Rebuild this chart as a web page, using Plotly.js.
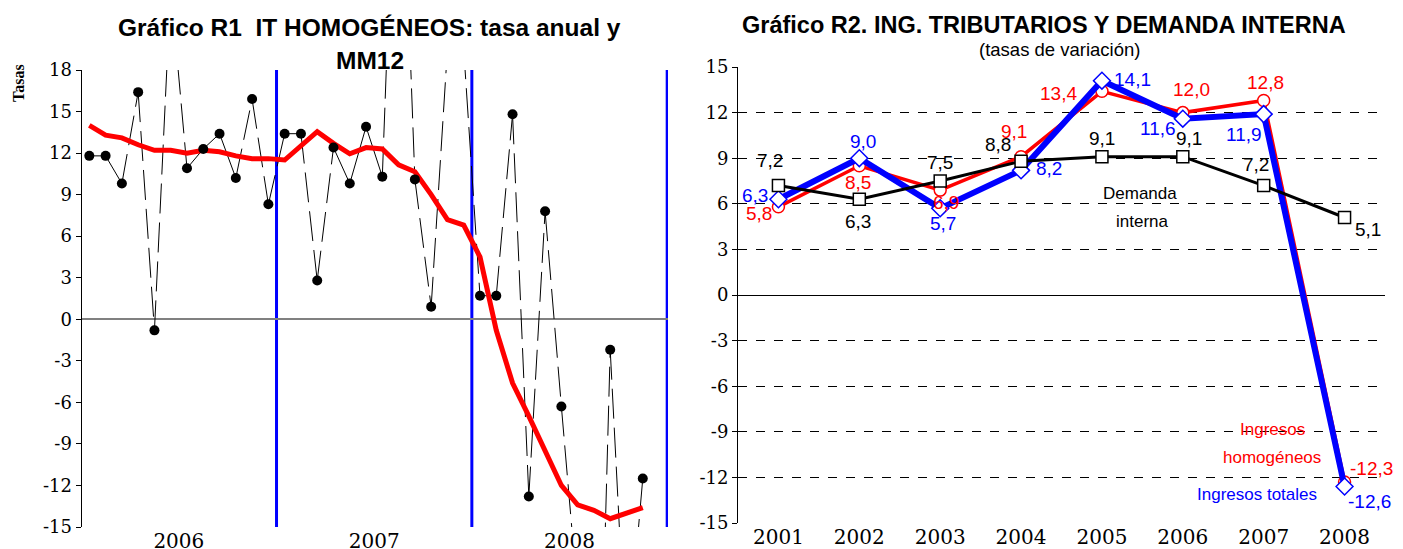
<!DOCTYPE html>
<html><head><meta charset="utf-8">
<script src="https://cdn.plot.ly/plotly-3.0.1.min.js"></script>
<style>html,body{margin:0;padding:0;background:#fff;} #chart{width:1403px;height:549px;}</style>
</head><body><div id="chart"></div>
<script>
// ---------- Gráfico R1 data (monthly, Jan 2006 - Nov 2008) ----------
const years1 = ['2006', '2007', '2008'];
const monthlyRate = [
  11.8, 11.8, 9.8, 16.4, -0.8, 24.0, 10.9, 12.3, 13.4, 10.2, 15.9, 8.3,
  13.4, 13.4, 2.8, 12.4, 9.8, 13.9, 10.3, 42.0, 10.1, 0.9, 19.5, 19.5,
  1.7, 1.7, 14.8, -12.8, 7.8, -6.3, -20.0, -45.0, -2.2, -25.0, -11.5
];
const mm12 = [
  14.0, 13.3, 13.1, 12.6, 12.2, 12.2, 12.0, 12.2, 12.1, 11.8, 11.6, 11.6,
  11.5, 12.5, 13.55, 12.7, 11.95, 12.4, 12.3, 11.15, 10.65, 9.0, 7.2, 6.8,
  4.5, -0.8, -4.6, -7.0, -9.6, -12.0, -13.4, -13.8, -14.4, -14.0, -13.6
];
const yTicks1 = [-15, -12, -9, -6, -3, 0, 3, 6, 9, 12, 15, 18];

// ---------- Gráfico R2 data (annual) ----------
const years2 = ['2001', '2002', '2003', '2004', '2005', '2006', '2007', '2008'];
const demandaInterna = [7.2, 6.3, 7.5, 8.8, 9.1, 9.1, 7.2, 5.1];
const ingresosHomogeneos = [5.8, 8.5, 6.9, 9.1, 13.4, 12.0, 12.8, -12.3];
const ingresosTotales = [6.3, 9.0, 5.7, 8.2, 14.1, 11.6, 11.9, -12.6];
const yTicks2 = [-15, -12, -9, -6, -3, 0, 3, 6, 9, 12, 15];

// label offsets (px) – style only
const offDem = [[-8, 25], [-1, -22], [0, 19], [-23, 17], [0, 18], [6, 18], [-8, 21], [23, -12]];
const offHom = [[-19, -7], [-1, -17], [6, -12], [-7, 25], [-43, -2], [9, 23], [2, 18], [27, 13]];
const offTot = [[-23, 4], [4, 17], [3, -15], [28, 2], [31, 1], [-25, -10], [-20, -20], [25, -15]];

const serif = 'DejaVu Serif, Liberation Serif, serif';
const sans = 'Liberation Sans, Arial, sans-serif';

const mIdx = monthlyRate.map((_, i) => i);

// split black line into gentle (solid) and steep (broken) segments
const solidX = [], solidY = [], brokenX = [], brokenY = [];
for (let i = 0; i < monthlyRate.length - 1; i++) {
  const steep = Math.abs(monthlyRate[i + 1] - monthlyRate[i]) >= 5;
  const tx = steep ? brokenX : solidX, ty = steep ? brokenY : solidY;
  tx.push(mIdx[i], mIdx[i + 1], null);
  ty.push(monthlyRate[i], monthlyRate[i + 1], null);
}

const fmt = v => v.toFixed(1).replace('.', ',');
const idx2 = years2.map((_, i) => i);

const traces = [
  {x: solidX, y: solidY, xaxis: 'x', yaxis: 'y', mode: 'lines', connectgaps: false,
   line: {color: '#000', width: 1}, hoverinfo: 'skip'},
  {x: brokenX, y: brokenY, xaxis: 'x', yaxis: 'y', mode: 'lines', connectgaps: false,
   line: {color: '#000', width: 1, dash: '30px,9px'}, hoverinfo: 'skip'},
  {x: mIdx, y: mm12, xaxis: 'x', yaxis: 'y', mode: 'lines',
   line: {color: '#FF0000', width: 5}},
  {x: mIdx, y: monthlyRate, xaxis: 'x', yaxis: 'y', mode: 'markers',
   marker: {color: '#000', size: 10}},
  // R2
  {x: idx2, y: ingresosHomogeneos, xaxis: 'x2', yaxis: 'y2', mode: 'lines+markers',
   line: {color: '#FF0000', width: 3.5},
   marker: {symbol: 'circle', size: 12, color: '#fff', line: {color: '#FF0000', width: 1.5}}},
  {x: idx2, y: ingresosTotales, xaxis: 'x2', yaxis: 'y2', mode: 'lines+markers',
   line: {color: '#0000FF', width: 6},
   marker: {symbol: 'diamond', size: 13, color: '#fff', line: {color: '#0000FF', width: 1.5}}},
  {x: idx2, y: demandaInterna, xaxis: 'x2', yaxis: 'y2', mode: 'lines+markers',
   line: {color: '#000', width: 3},
   marker: {symbol: 'square', size: 12, color: '#fff', line: {color: '#000', width: 1.5}}}
];

const annotations = [];
function addLabels(vals, offs, color) {
  vals.forEach((v, i) => annotations.push({
    xref: 'x2', yref: 'y2', x: idx2[i], y: v, text: fmt(v), showarrow: false,
    xshift: offs[i][0], yshift: offs[i][1], font: {family: sans, size: 19, color: color}
  }));
}
addLabels(demandaInterna, offDem, '#000');
addLabels(ingresosHomogeneos, offHom, '#FF0000');
addLabels(ingresosTotales, offTot, '#0000FF');

const txt = (t, x, y, size, color, extra) => Object.assign({
  xref: 'paper', yref: 'paper', x: x / 1403, y: 1 - y / 549, text: t, showarrow: false,
  xanchor: 'center', yanchor: 'middle', font: {family: sans, size: size, color: color}
}, extra || {});

annotations.push(
  txt('<b>Gráfico R1  IT HOMOGÉNEOS: tasa anual y</b>', 370, 28, 24.5, '#000'),
  txt('<b>MM12</b>', 370, 60, 24.5, '#000'),
  txt('<b>Tasas</b>', 18, 83, 16, '#000', {textangle: -90, font: {family: 'Liberation Serif, serif', size: 16, color: '#000'}}),
  txt('<b>Gráfico R2. ING. TRIBUTARIOS Y DEMANDA INTERNA</b>', 1044, 25, 23.5, '#000'),
  txt('(tasas de variación)', 1059, 49, 18.5, '#000'),
  txt('Demanda', 1140, 193, 17, '#000'),
  txt('interna', 1142, 221, 17, '#000'),
  txt('Ingresos', 1272, 429, 17, '#FF0000'),
  txt('homogéneos', 1272, 457, 17, '#FF0000'),
  txt('Ingresos totales', 1257, 494, 17, '#0000FF')
);

const shapes = years1.map((_, i) => ({
  type: 'line', xref: 'x', yref: 'y domain', x0: 12 * (i + 1) - 0.5, x1: 12 * (i + 1) - 0.5,
  y0: 0, y1: 1, line: {color: '#0000FF', width: 3}, layer: 'below'
}));

const layout = {
  width: 1403, height: 549, margin: {l: 0, r: 0, t: 0, b: 0},
  paper_bgcolor: '#fff', plot_bgcolor: '#fff', showlegend: false,
  xaxis: {domain: [82 / 1403, 668 / 1403], anchor: 'y', range: [-0.45, 35.55],
    tickvals: years1.map((_, i) => i * 12 + 5.5), ticktext: years1, ticks: '',
    showline: false, showgrid: false, zeroline: false,
    tickfont: {family: serif, size: 20, color: '#000'}},
  yaxis: {domain: [1 - 527 / 549, 1 - 70 / 549], anchor: 'x', range: [-15, 18],
    tickvals: yTicks1, ticktext: yTicks1.map(String), showline: true, linecolor: '#000', linewidth: 1.5,
    ticks: 'outside', ticklen: 5, tickcolor: '#000', showgrid: false,
    zeroline: true, zerolinecolor: '#808080', zerolinewidth: 2,
    tickfont: {family: serif, size: 18, color: '#000'}},
  xaxis2: {domain: [738 / 1403, 1385 / 1403], anchor: 'y2', range: [-0.5, 7.5],
    tickvals: idx2, ticktext: years2, ticks: '', showline: false, showgrid: false, zeroline: false,
    tickfont: {family: serif, size: 20, color: '#000'}},
  yaxis2: {domain: [1 - 523 / 549, 1 - 67 / 549], anchor: 'x2', range: [-15, 15],
    tickvals: yTicks2, ticktext: yTicks2.map(String), showline: true, linecolor: '#000', linewidth: 1,
    ticks: 'outside', ticklen: 5, tickcolor: '#000',
    showgrid: true, gridcolor: '#000', gridwidth: 1, griddash: 'dash',
    zeroline: true, zerolinecolor: '#000', zerolinewidth: 1,
    tickfont: {family: serif, size: 18, color: '#000'}},
  annotations: annotations, shapes: shapes
};

Plotly.newPlot('chart', traces, layout, {staticPlot: true, displayModeBar: false});
</script></body></html>
